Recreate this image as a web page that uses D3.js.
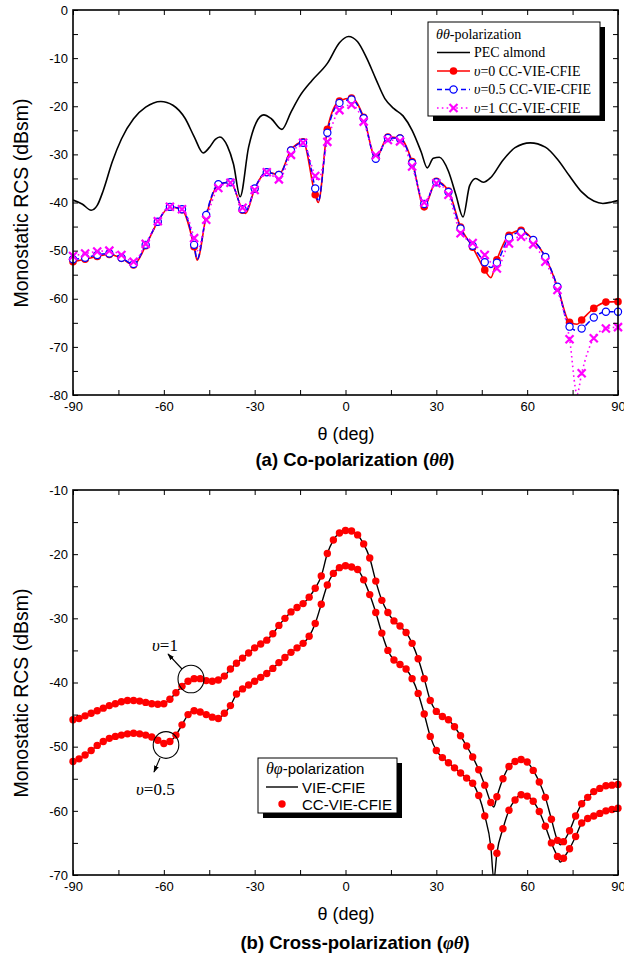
<!DOCTYPE html>
<html>
<head>
<meta charset="utf-8">
<script src="https://cdn.jsdelivr.net/npm/d3@7"></script>
<style>
  body { margin: 0; background: #fff; }
  svg { display: block; }
</style>
</head>
<body>
<svg id="fig" width="624" height="959"></svg>
<script>
// ---------- (a) co-polarization data ----------
const thetaPEC = [-90,-87,-84,-82,-80,-77,-74,-70,-66,-61,-57,-53,-50,-47,-45,-43,-41.5,-39,-37,-34.8,
  -32,-29.5,-27,-24.5,-21,-18,-15,-11,-6,-2,1,4,7,10,13,16,19,22,25,27,
  29,31,34,36.5,38.8,41,43,45.5,48,52,56,61,66,70,74,78,82,85,88,90];
const rcsPEC = [-39.5,-40.3,-41.6,-40.6,-37.5,-31.5,-26.8,-22.6,-20.2,-19.0,-19.8,-22.5,-26.3,-29.7,-28.6,-26.9,-26.4,-28.3,-32.0,-38.8,
  -28.5,-23.4,-21.8,-22.6,-24.8,-21.2,-17.8,-14.6,-11.1,-6.8,-5.5,-6.6,-10.0,-14.3,-18.4,-20.5,-22.0,-25.0,-29.5,-32.8,
  -30.8,-30.6,-33.5,-38.5,-43.0,-36.5,-35.0,-35.8,-34.8,-31.2,-28.6,-27.6,-28.5,-31.0,-34.5,-37.8,-39.7,-40.2,-39.9,-39.6];

const thetaCo = [-90,-86,-82,-78,-74,-70,-66,-62,-58,-54,-50,-49,-46,-42,-38,-34,-33,-30,-26,-22,-18,-14,-10,-9,-6,
  -2,2,6,10,14,18,22,26,30,34,38,42,46,48,50,54,58,62,66,70,74,76.5,78,82,86,90];
const rcsV0 = [-52.3,-51.8,-51.2,-50.8,-51.6,-53.0,-49.0,-44.0,-41.0,-41.5,-49.2,-52.0,-42.8,-36.3,-35.8,-41.6,-42.3,-37.2,-33.7,-34.2,-29.1,-27.4,-38.4,-40.0,-24.8,
  -18.9,-18.3,-22.3,-30.8,-26.4,-26.6,-31.5,-40.9,-35.6,-37.6,-45.1,-49.3,-54.0,-55.6,-51.9,-46.8,-45.8,-47.8,-51.3,-57.5,-64.9,-65.3,-64.4,-62.0,-60.7,-60.6];
const rcsV05 = [-51.8,-51.5,-50.9,-50.6,-51.5,-52.8,-48.8,-44.0,-40.9,-41.4,-48.8,-51.8,-42.6,-36.2,-35.8,-41.4,-41.8,-37.1,-33.7,-34.3,-29.2,-27.6,-37.1,-39.8,-25.5,
  -19.3,-18.6,-22.5,-30.9,-26.6,-26.7,-31.8,-40.3,-35.8,-37.8,-45.4,-49.0,-52.4,-53.5,-52.5,-47.3,-46.2,-47.8,-51.3,-57.5,-65.8,-66.6,-66.2,-63.9,-62.7,-62.7];
const rcsV1 = [-51.1,-50.6,-50.2,-50.0,-50.9,-52.3,-48.6,-43.9,-40.9,-41.4,-47.4,-50.0,-43.6,-37.0,-35.9,-41.1,-41.5,-37.4,-33.7,-35.2,-30.1,-27.6,-34.5,-35.5,-27.4,
  -20.8,-19.7,-23.2,-30.2,-27.0,-27.3,-32.5,-40.0,-36.0,-38.4,-46.4,-48.4,-50.9,-52.5,-53.7,-48.5,-47.1,-48.7,-52.3,-58.2,-68.4,-79.8,-75.5,-68.2,-66.2,-65.9];

// ---------- (b) cross-polarization data ----------
const thetaCross = d3.range(-90, 91, 2);
const ccUpper = [-45.8,-45.6,-45.2,-44.8,-44.4,-44.0,-43.6,-43.3,-43.0,-42.8,-42.8,-42.9,-43.1,-43.3,-43.4,-43.3,-42.6,-41.6,-40.6,-39.8,
  -39.4,-39.4,-39.7,-39.8,-39.6,-39.0,-37.9,-37.0,-36.2,-35.4,-34.6,-34.0,-33.4,-32.4,-31.1,-30.0,-29.0,-28.3,-27.7,-26.7,
  -25.3,-23.4,-19.9,-17.8,-16.7,-16.3,-16.4,-17.0,-18.4,-20.6,-24.2,-27.2,-29.1,-30.4,-31.2,-32.2,-33.9,-36.3,-39.4,-42.8,
  -44.5,-45.3,-45.8,-46.9,-48.3,-49.9,-51.6,-53.6,-56.0,-58.7,-57.8,-55.0,-53.1,-52.3,-52.0,-52.4,-53.7,-55.5,-57.9,-61.3,
  -64.6,-64.8,-63.1,-60.8,-58.9,-57.9,-57.0,-56.5,-56.1,-56.0,-55.9];
const ccLower = [-52.3,-51.9,-51.3,-50.6,-49.8,-49.2,-48.7,-48.4,-48.2,-48.0,-47.9,-48.0,-48.2,-48.5,-49.0,-49.5,-49.2,-48.2,-46.6,-45.0,
  -44.4,-44.6,-45.0,-45.4,-45.6,-44.8,-43.6,-41.8,-41.0,-40.4,-39.8,-39.2,-38.6,-37.8,-36.9,-36.1,-35.3,-34.6,-33.9,-32.8,
  -30.8,-27.8,-24.8,-23.0,-22.1,-21.8,-22.0,-22.4,-24.0,-26.3,-29.1,-32.3,-35.0,-36.5,-37.2,-37.9,-39.4,-41.7,-44.9,-48.4,
  -50.6,-51.7,-52.5,-53.3,-54.1,-54.9,-55.7,-57.6,-60.8,-65.6,-66.6,-62.8,-59.9,-58.3,-57.5,-57.7,-58.5,-60.1,-62.4,-65.0,
  -67.1,-67.4,-65.9,-64.0,-61.9,-61.2,-60.8,-60.4,-60.0,-59.8,-59.6];
const vieUpper = [-45.8,-45.6,-45.2,-44.8,-44.4,-44.0,-43.6,-43.3,-43.0,-42.8,-42.8,-42.9,-43.1,-43.3,-43.4,-43.3,-42.6,-41.6,-40.6,-39.8,
  -39.4,-39.4,-39.7,-39.8,-39.6,-39.0,-37.9,-37.0,-36.2,-35.4,-34.6,-34.0,-33.4,-32.4,-31.1,-30.0,-29.0,-28.3,-27.7,-26.7,
  -25.3,-23.4,-19.9,-17.8,-16.7,-16.3,-16.4,-17.0,-18.4,-20.6,-24.2,-27.2,-29.1,-30.4,-31.2,-32.2,-33.9,-36.3,-39.4,-42.8,
  -44.5,-45.3,-45.8,-46.9,-48.3,-49.9,-51.6,-53.6,-56.0,-58.7,-57.8,-55.0,-53.1,-52.3,-52.0,-52.4,-53.7,-55.5,-57.9,-61.3,
  -64.6,-64.8,-63.1,-60.8,-58.9,-57.9,-57.0,-56.5,-56.1,-56.0,-55.9];
const vieLower = [-52.3,-51.9,-51.3,-50.6,-49.8,-49.2,-48.7,-48.4,-48.2,-48.0,-47.9,-48.0,-48.2,-48.5,-49.0,-49.5,-49.2,-48.2,-46.6,-45.0,
  -44.4,-44.6,-45.0,-45.4,-45.6,-44.8,-43.6,-41.8,-41.0,-40.4,-39.8,-39.2,-38.6,-37.8,-36.9,-36.1,-35.3,-34.6,-33.9,-32.8,
  -30.8,-27.8,-24.8,-23.0,-22.1,-21.8,-22.0,-22.4,-24.0,-26.3,-29.1,-32.3,-35.0,-36.5,-37.2,-37.9,-39.4,-41.7,-44.9,-48.4,
  -50.6,-51.7,-52.5,-53.3,-54.1,-54.9,-55.7,-57.6,-60.8,-65.6,-66.6,-62.8,-59.9,-58.3,-57.5,-57.7,-58.5,-60.1,-62.4,-65.0,
  -67.1,-67.4,-65.9,-64.0,-61.9,-61.2,-60.8,-60.4,-60.0,-59.8,-59.6];
// sharp nulls resolved by the VIE-CFIE reference solution
const vieNullTheta = [49, 71];
const vieNullUpper = [-59.4, -65.3];
const vieNullLower = [-70.8, -68.0];

// ---------- ticks ----------
const xMajor = [-90, -60, -30, 0, 30, 60, 90];
const xMinor = [-75, -45, -15, 15, 45, 75];
const yMajorCo = [0, -10, -20, -30, -40, -50, -60, -70, -80];
const yMinorCo = [-5, -15, -25, -35, -45, -55, -65, -75];
const yMajorCr = [-10, -20, -30, -40, -50, -60, -70];
const yMinorCr = [-15, -25, -35, -45, -55, -65];

// ---------- styles ----------
const SANS = "'Liberation Sans', Arial, sans-serif";
const SERIF = "'Liberation Serif', 'Times New Roman', serif";
const RED = "#ff0000", BLUE = "#0000ff", MAG = "#ff00ff";

const svg = d3.select("#fig");
const defs = svg.append("defs");
defs.append("marker").attr("id", "arrow").attr("viewBox", "0 0 10 10")
  .attr("refX", 9).attr("refY", 5).attr("markerWidth", 7).attr("markerHeight", 7)
  .attr("orient", "auto-start-reverse").attr("markerUnits", "userSpaceOnUse")
  .append("path").attr("d", "M0,1.5L10,5L0,8.5Z").attr("fill", "#000");

const xCo = d3.scaleLinear().domain([-90, 90]).range([73, 618]);
const yCo = d3.scaleLinear().domain([-80, 0]).range([395, 10]);
const xCr = d3.scaleLinear().domain([-90, 90]).range([73, 618]);
const yCr = d3.scaleLinear().domain([-70, -10]).range([875, 490]);

function clip(id, x, y) {
  defs.append("clipPath").attr("id", id).append("rect")
    .attr("x", x.range()[0]).attr("y", y.range()[1])
    .attr("width", x.range()[1] - x.range()[0]).attr("height", y.range()[0] - y.range()[1]);
}
clip("clipCo", xCo, yCo);
clip("clipCr", xCr, yCr);

function styleAxis(g, size) {
  g.select(".domain").remove();
  g.selectAll(".tick line").attr("stroke", "#000").attr("stroke-width", 1);
  g.selectAll("text").attr("font-family", SANS).attr("font-size", size).attr("fill", "#000");
}

function axes(x, y, yMajor, yMinor) {
  const [xl, xr] = x.range();
  const [yb, yt] = y.range();
  const g = svg.append("g");
  const fmt = d => String(d);
  g.append("g").attr("transform", `translate(0,${yb})`)
    .call(d3.axisBottom(x).tickValues(xMajor).tickSize(-5).tickSizeOuter(0).tickPadding(7).tickFormat(fmt))
    .call(s => styleAxis(s, 13));
  g.append("g").attr("transform", `translate(0,${yb})`)
    .call(d3.axisBottom(x).tickValues(xMinor).tickSize(-5).tickSizeOuter(0).tickFormat(""))
    .call(s => styleAxis(s, 13));
  g.append("g").attr("transform", `translate(0,${yt})`)
    .call(d3.axisTop(x).tickValues(xMajor.concat(xMinor)).tickSize(-5).tickSizeOuter(0).tickFormat(""))
    .call(s => styleAxis(s, 13));
  g.append("g").attr("transform", `translate(${xl},0)`)
    .call(d3.axisLeft(y).tickValues(yMajor).tickSize(-5).tickSizeOuter(0).tickPadding(5).tickFormat(fmt))
    .call(s => styleAxis(s, 13));
  g.append("g").attr("transform", `translate(${xl},0)`)
    .call(d3.axisLeft(y).tickValues(yMinor).tickSize(-5).tickSizeOuter(0).tickFormat(""))
    .call(s => styleAxis(s, 13));
  g.append("g").attr("transform", `translate(${xr},0)`)
    .call(d3.axisRight(y).tickValues(yMajor.concat(yMinor)).tickSize(-5).tickSizeOuter(0).tickFormat(""))
    .call(s => styleAxis(s, 13));
  g.append("rect").attr("x", xl).attr("y", yt).attr("width", xr - xl).attr("height", yb - yt)
    .attr("fill", "none").attr("stroke", "#000").attr("stroke-width", 1.6);
}

function pairs(t, v) { return t.map((d, i) => [d, v[i]]); }

// ================= (a) Co-polarization =================
const gA = svg.append("g").attr("clip-path", "url(#clipCo)");
const lineA = d3.line().x(d => xCo(d[0])).y(d => yCo(d[1])).curve(d3.curveMonotoneX);

gA.append("path").datum(pairs(thetaPEC, rcsPEC)).attr("d", lineA)
  .attr("fill", "none").attr("stroke", "#000").attr("stroke-width", 1.6);
gA.append("path").datum(pairs(thetaCo, rcsV0)).attr("d", lineA)
  .attr("fill", "none").attr("stroke", RED).attr("stroke-width", 1.6);
gA.append("path").datum(pairs(thetaCo, rcsV05)).attr("d", lineA)
  .attr("fill", "none").attr("stroke", BLUE).attr("stroke-width", 1.5).attr("stroke-dasharray", "6,3");
gA.append("path").datum(pairs(thetaCo, rcsV1)).attr("d", lineA)
  .attr("fill", "none").attr("stroke", MAG).attr("stroke-width", 1.6).attr("stroke-dasharray", "1.6,3.2");

// symbols every 4 degrees
const onMarker = d => (d[0] + 90) % 4 === 0;
const gM = svg.append("g");
gM.selectAll("circle.v0").data(pairs(thetaCo, rcsV0).filter(onMarker)).join("circle")
  .attr("cx", d => xCo(d[0])).attr("cy", d => yCo(d[1])).attr("r", 3.8).attr("fill", RED);
gM.selectAll("circle.v05").data(pairs(thetaCo, rcsV05).filter(onMarker)).join("circle")
  .attr("cx", d => xCo(d[0])).attr("cy", d => yCo(d[1])).attr("r", 3.6)
  .attr("fill", "#fff").attr("stroke", BLUE).attr("stroke-width", 1.2);
const cross = "M-4,-4L4,4M-4,4L4,-4";
gM.selectAll("path.v1").data(pairs(thetaCo, rcsV1).filter(onMarker)).join("path")
  .attr("transform", d => `translate(${xCo(d[0])},${yCo(d[1])})`).attr("d", cross)
  .attr("stroke", MAG).attr("stroke-width", 2.2).attr("fill", "none");

axes(xCo, yCo, yMajorCo, yMinorCo);

// axis titles (a)
svg.append("text").attr("transform", "translate(21,203) rotate(-90)")
  .attr("text-anchor", "middle").attr("dominant-baseline", "central")
  .attr("font-family", SANS).attr("font-size", 19.5).text("Monostatic RCS (dBsm)");
svg.append("text").attr("x", 346).attr("y", 440).attr("text-anchor", "middle")
  .attr("font-family", SANS).attr("font-size", 18).text("θ (deg)");
const capA = svg.append("text").attr("x", 355).attr("y", 466).attr("text-anchor", "middle")
  .attr("font-family", SANS).attr("font-size", 18.5).attr("font-weight", "bold");
capA.append("tspan").text("(a) Co-polarization (");
capA.append("tspan").attr("font-family", SERIF).attr("font-style", "italic").text("θθ");
capA.append("tspan").text(")");

// legend (a)
const legA = svg.append("g").attr("font-family", SERIF).attr("font-size", 14);
legA.append("rect").attr("x", 433).attr("y", 27).attr("width", 172).attr("height", 94).attr("fill", "#000");
legA.append("rect").attr("x", 428).attr("y", 22).attr("width", 172).attr("height", 94)
  .attr("fill", "#fff").attr("stroke", "#000").attr("stroke-width", 1);
const tA = legA.append("text").attr("x", 436).attr("y", 39);
tA.append("tspan").attr("font-style", "italic").text("θθ");
tA.append("tspan").text("-polarization");
const legRows = [
  { y: 52.5, label: "PEC almond", nu: null, color: "#000", dash: null, sym: null },
  { y: 71, label: "=0 CC-VIE-CFIE", nu: "υ", color: RED, dash: null, sym: "dot" },
  { y: 89.5, label: "=0.5 CC-VIE-CFIE", nu: "υ", color: BLUE, dash: "5,3", sym: "ring" },
  { y: 108, label: "=1 CC-VIE-CFIE", nu: "υ", color: MAG, dash: "1.6,3.2", sym: "x" }
];
legRows.forEach(r => {
  legA.append("line").attr("x1", 437).attr("x2", 470).attr("y1", r.y).attr("y2", r.y)
    .attr("stroke", r.color).attr("stroke-width", 1.6).attr("stroke-dasharray", r.dash);
  if (r.sym === "dot") legA.append("circle").attr("cx", 453.5).attr("cy", r.y).attr("r", 3.8).attr("fill", r.color);
  if (r.sym === "ring") legA.append("circle").attr("cx", 453.5).attr("cy", r.y).attr("r", 3.6)
    .attr("fill", "#fff").attr("stroke", r.color).attr("stroke-width", 1.2);
  if (r.sym === "x") legA.append("path").attr("transform", `translate(453.5,${r.y})`).attr("d", cross)
    .attr("stroke", r.color).attr("stroke-width", 2.2);
  const t = legA.append("text").attr("x", 474).attr("y", r.y + 4.7);
  if (r.nu) t.append("tspan").attr("font-style", "italic").text(r.nu);
  t.append("tspan").text(r.label);
});

// ================= (b) Cross-polarization =================
const gB = svg.append("g").attr("clip-path", "url(#clipCr)");
const lineB = d3.line().x(d => xCr(d[0])).y(d => yCr(d[1])).curve(d3.curveMonotoneX);
function withNulls(vals, nulls) {
  return pairs(thetaCross, vals).concat(pairs(vieNullTheta, nulls)).sort((a, b) => a[0] - b[0]);
}
[withNulls(vieUpper, vieNullUpper), withNulls(vieLower, vieNullLower)].forEach(data => {
  gB.append("path").datum(data).attr("d", lineB)
    .attr("fill", "none").attr("stroke", "#000").attr("stroke-width", 1.4);
});
const gD = svg.append("g");
[ccUpper, ccLower].forEach(vals => {
  gD.append("g").selectAll("circle").data(pairs(thetaCross, vals)).join("circle")
    .attr("cx", d => xCr(d[0])).attr("cy", d => yCr(d[1])).attr("r", 3.7).attr("fill", RED);
});

axes(xCr, yCr, yMajorCr, yMinorCr);

svg.append("text").attr("transform", "translate(21,693) rotate(-90)")
  .attr("text-anchor", "middle").attr("dominant-baseline", "central")
  .attr("font-family", SANS).attr("font-size", 19.5).text("Monostatic RCS (dBsm)");
svg.append("text").attr("x", 346).attr("y", 920).attr("text-anchor", "middle")
  .attr("font-family", SANS).attr("font-size", 18).text("θ (deg)");
const capB = svg.append("text").attr("x", 355).attr("y", 949).attr("text-anchor", "middle")
  .attr("font-family", SANS).attr("font-size", 18.5).attr("font-weight", "bold");
capB.append("tspan").text("(b) Cross-polarization (");
capB.append("tspan").attr("font-family", SERIF).attr("font-style", "italic").text("φθ");
capB.append("tspan").text(")");

// legend (b)
const legB = svg.append("g").attr("font-family", SANS).attr("font-size", 15);
legB.append("rect").attr("x", 263).attr("y", 763).attr("width", 139).attr("height", 55).attr("fill", "#000");
legB.append("rect").attr("x", 258).attr("y", 758).attr("width", 139).attr("height", 55)
  .attr("fill", "#fff").attr("stroke", "#000").attr("stroke-width", 1);
const tB = legB.append("text").attr("x", 266).attr("y", 774);
tB.append("tspan").attr("font-family", SERIF).attr("font-style", "italic").attr("font-size", 16).text("θφ");
tB.append("tspan").text("-polarization");
legB.append("line").attr("x1", 266).attr("x2", 298).attr("y1", 787).attr("y2", 787)
  .attr("stroke", "#000").attr("stroke-width", 1.4);
legB.append("text").attr("x", 302).attr("y", 792.5).text("VIE-CFIE");
legB.append("circle").attr("cx", 282).attr("cy", 804).attr("r", 3.7).attr("fill", RED);
legB.append("text").attr("x", 302).attr("y", 809.5).text("CC-VIE-CFIE");

// callouts for the two smoothing parameters
const ann = svg.append("g").attr("fill", "none").attr("stroke", "#000").attr("stroke-width", 1.1);
ann.append("ellipse").attr("cx", 191).attr("cy", 679).attr("rx", 13).attr("ry", 13.8);
ann.append("line").attr("x1", 182).attr("y1", 669).attr("x2", 168).attr("y2", 654).attr("marker-end", "url(#arrow)");
ann.append("ellipse").attr("cx", 166).attr("cy", 745).attr("rx", 12.8).attr("ry", 13.4);
ann.append("line").attr("x1", 160).attr("y1", 758).attr("x2", 154).attr("y2", 772).attr("marker-end", "url(#arrow)");
const n1 = svg.append("text").attr("x", 152).attr("y", 651).attr("font-family", SERIF).attr("font-size", 17);
n1.append("tspan").attr("font-style", "italic").text("υ");
n1.append("tspan").text("=1");
const n2 = svg.append("text").attr("x", 136).attr("y", 795).attr("font-family", SERIF).attr("font-size", 17);
n2.append("tspan").attr("font-style", "italic").text("υ");
n2.append("tspan").text("=0.5");
</script>
</body>
</html>
